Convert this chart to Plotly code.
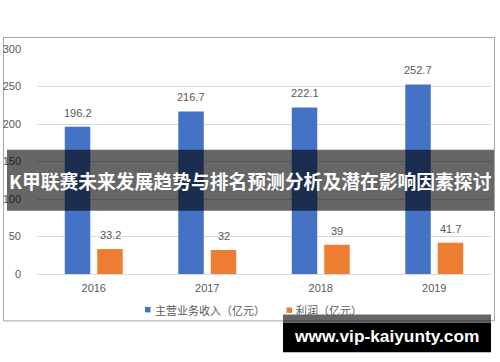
import plotly.graph_objects as go

years = ["2016", "2017", "2018", "2019"]
revenue = [196.2, 216.7, 222.1, 252.7]
profit = [33.2, 32, 39, 41.7]
series_names = ["主营业务收入（亿元）", "利润（亿元）"]
colors = ["#4472C4", "#ED7D31"]
y_ticks = [0, 50, 100, 150, 200, 250, 300]
title_text = "K甲联赛未来发展趋势与排名预测分析及潜在影响因素探讨"
watermark = "www.vip-kaiyunty.com"

W, H = 500, 362
L, R, T, B = 37, 9, 49, 87.5
PW, PH = W - L - R, H - T - B

def px(x):
    return (x - L) / PW

def py(y):
    return (H - B - y) / PH

FONT = "Liberation Sans, Noto Sans CJK SC, sans-serif"
GRAY = "#595959"

fig = go.Figure()
for name, vals, c in zip(series_names, [revenue, profit], colors):
    fig.add_trace(go.Bar(x=years, y=vals, name=name, marker_color=c,
                         marker_line_width=0, showlegend=False))

# data labels (category index positions on the category axis)
shift = 16.25
for vals, dx in [(revenue, -shift), (profit, shift)]:
    for i, v in enumerate(vals):
        fig.add_annotation(x=i, y=v, text=f"{v:g}", showarrow=False,
                           xshift=dx, yshift=14, yanchor="middle",
                           font=dict(size=11, color=GRAY, family=FONT))

shapes = []
shapes.append(dict(type="rect", xref="paper", yref="paper",
                   x0=px(3.5), x1=px(494.5), y0=py(321.5), y1=py(37.5),
                   line=dict(color="#a6a6a6", width=1), fillcolor="rgba(0,0,0,0)", layer="below"))
shapes.append(dict(type="rect", xref="paper", yref="paper",
                   x0=px(145), x1=px(150.5), y0=py(313), y1=py(307.5),
                   line_width=0, fillcolor=colors[0]))
shapes.append(dict(type="rect", xref="paper", yref="paper",
                   x0=px(286.5), x1=px(292), y0=py(313.5), y1=py(308),
                   line_width=0, fillcolor=colors[1]))
shapes.append(dict(type="rect", xref="paper", yref="paper",
                   x0=px(7), x1=px(494), y0=py(211), y1=py(150),
                   line_width=0, fillcolor="rgba(0,0,0,0.6)", layer="above"))
shapes.append(dict(type="rect", xref="paper", yref="paper",
                   x0=px(283), x1=px(491), y0=py(323.5), y1=py(315),
                   line_width=0, fillcolor="rgba(0,0,0,0.6)", layer="above"))
shapes.append(dict(type="rect", xref="paper", yref="paper",
                   x0=px(283), x1=px(491), y0=py(353), y1=py(323.5),
                   line_width=0, fillcolor="#000000", layer="above"))

fig.add_annotation(xref="paper", yref="paper", x=px(153), y=py(310.7),
                   xanchor="left", yanchor="middle", showarrow=False,
                   text=series_names[0], font=dict(size=11, color=GRAY, family=FONT))
fig.add_annotation(xref="paper", yref="paper", x=px(294), y=py(310.7),
                   xanchor="left", yanchor="middle", showarrow=False,
                   text=series_names[1], font=dict(size=11, color=GRAY, family=FONT))

fig.add_annotation(xref="paper", yref="paper", x=px(250), y=py(181),
                   xanchor="center", yanchor="middle", showarrow=False,
                   text=f"<b>{title_text}</b>",
                   font=dict(size=18.8, color="#ffffff", family="Noto Sans CJK SC, sans-serif"))
fig.add_annotation(xref="paper", yref="paper", x=px(386), y=py(337),
                   xanchor="center", yanchor="middle", showarrow=False,
                   text=f"<b>{watermark}</b>",
                   font=dict(size=17.3, color="#ffffff", family="Liberation Sans, sans-serif"))

fig.update_layout(
    width=W, height=H,
    margin=dict(l=L, r=R, t=T, b=B, pad=0, autoexpand=False),
    paper_bgcolor="white", plot_bgcolor="white",
    barmode="group", bargap=0.428, bargroupgap=0.215,
    shapes=shapes,
    font=dict(family=FONT, size=11, color=GRAY),
    showlegend=False,
)
fig.update_xaxes(type="category", showgrid=False, showline=True, linecolor="#d9d9d9",
                 linewidth=1, ticks="", tickfont=dict(size=11, color=GRAY),
                 ticklabelstandoff=4, automargin=False)
fig.update_yaxes(range=[0, 300], tickvals=y_ticks, showgrid=True, gridcolor="#d9d9d9",
                 gridwidth=1, zeroline=False, showline=False, ticks="",
                 tickfont=dict(size=11, color=GRAY), ticklabelstandoff=15, automargin=False)

fig.write_html("out.html")
